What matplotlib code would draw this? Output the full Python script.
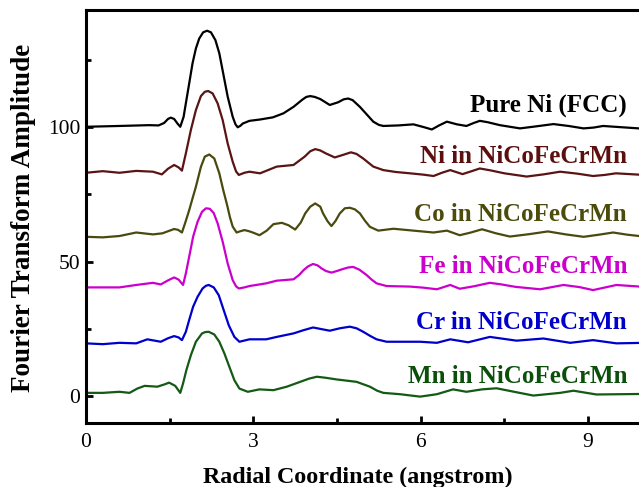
import matplotlib
matplotlib.use("Agg")
import matplotlib.pyplot as plt
from matplotlib.ticker import MultipleLocator

plt.rcParams['font.family'] = ['Liberation Serif', 'DejaVu Serif']

# ---- data ----
r_pure = [0, 0.6, 1.13, 1.30, 1.40, 1.47, 1.52, 1.58, 1.64, 1.69,
          1.75, 1.79, 1.85, 1.91, 1.97, 2.03, 2.10, 2.17, 2.24, 2.32,
          2.39, 2.46, 2.54, 2.63, 2.68, 2.72, 2.77, 2.81, 2.93, 3.12,
          3.35, 3.54, 3.72, 3.88, 3.95, 4.02, 4.10, 4.20, 4.37, 4.52,
          4.62, 4.70, 4.78, 4.91, 5.05, 5.15, 5.25, 5.33, 5.60, 5.87,
          6.05, 6.20, 6.33, 6.47, 6.65, 6.82, 6.95, 7.06, 7.20, 7.42,
          7.78, 8.05, 8.38, 8.65, 8.92, 9.10, 9.27, 9.55, 9.91, 10.0]
a_pure = [100.1, 100.4, 100.7, 100.6, 101.5, 103.0, 103.5, 103.0, 101.3, 100.1,
          103.8, 108.8, 116.2, 123.7, 129.2, 132.9, 135.2, 135.8, 135.2, 132.3,
          127.4, 119.9, 111.3, 103.8, 101.0, 99.9, 100.5, 101.3, 102.3, 102.8,
          103.6, 105.1, 107.5, 110.2, 111.2, 111.5, 111.2, 110.4, 108.2, 109.2,
          110.3, 110.6, 110.0, 107.5, 104.3, 102.0, 100.8, 100.4, 100.6, 101.0,
          100.0, 99.1, 100.6, 102.0, 101.0, 100.4, 101.5, 102.3, 101.8, 100.7,
          99.5, 100.2, 101.1, 100.4, 99.5, 99.8, 100.4, 100.0, 99.5, 99.5]

r_ni = [0, 0.3, 0.6, 0.9, 1.2, 1.36, 1.47, 1.58, 1.66, 1.72,
        1.79, 1.88, 1.97, 2.06, 2.13, 2.19, 2.27, 2.36, 2.45, 2.54,
        2.63, 2.69, 2.74, 2.84, 2.93, 3.12, 3.42, 3.72, 3.92, 4.02,
        4.11, 4.20, 4.30, 4.46, 4.60, 4.75, 4.85, 4.97, 5.15, 5.33,
        5.55, 5.81, 6.05, 6.23, 6.38, 6.53, 6.75, 6.90, 7.06, 7.25,
        7.5, 7.9, 8.2, 8.5, 8.8, 9.09, 9.3, 9.5, 10.0]
a_ni = [83.0, 83.6, 83.0, 83.7, 83.4, 82.4, 84.5, 85.9, 85.0, 83.8,
        90.2, 98.9, 106.3, 111.5, 113.1, 113.4, 112.5, 108.8, 102.6, 93.9,
        87.1, 83.5, 82.2, 83.0, 83.4, 82.8, 85.3, 85.9, 89.0, 91.0,
        91.8, 91.3, 90.2, 88.7, 89.6, 90.6, 90.0, 88.3, 85.3, 84.0,
        83.3, 82.8, 82.3, 81.8, 83.0, 84.0, 82.5, 83.5, 84.6, 83.9,
        82.8, 81.6, 82.4, 83.4, 82.7, 81.8, 82.2, 82.8, 82.2]

r_co = [0, 0.3, 0.6, 0.9, 1.2, 1.37, 1.50, 1.58, 1.65, 1.72,
        1.78, 1.85, 1.91, 1.97, 2.06, 2.13, 2.21, 2.30, 2.39, 2.46,
        2.53, 2.58, 2.63, 2.70, 2.77, 2.84, 2.92, 2.99, 3.11, 3.24,
        3.36, 3.51, 3.63, 3.75, 3.85, 3.93, 4.02, 4.11, 4.20, 4.25,
        4.33, 4.40, 4.47, 4.55, 4.64, 4.73, 4.82, 4.91, 5.00, 5.09,
        5.24, 5.51, 5.87, 6.23, 6.47, 6.70, 6.90, 7.10, 7.35, 7.60,
        7.95, 8.28, 8.60, 8.92, 9.20, 9.45, 9.70, 10.0]
a_co = [59.2, 59.0, 59.5, 60.8, 60.1, 60.5, 61.5, 62.1, 61.8, 60.8,
        64.5, 69.1, 73.5, 77.8, 85.2, 89.0, 89.8, 88.3, 82.8, 76.6,
        71.0, 66.5, 63.0, 60.8, 61.3, 61.7, 61.3, 60.8, 59.8, 61.5,
        63.9, 64.4, 63.5, 61.9, 64.5, 67.9, 70.4, 71.6, 70.4, 67.9,
        65.0, 63.2, 65.0, 67.9, 69.8, 70.0, 69.4, 67.9, 65.2, 62.9,
        61.5, 62.2, 61.5, 60.8, 61.5, 59.8, 60.8, 62.0, 60.5, 59.3,
        60.2, 61.2, 60.1, 59.2, 60.0, 60.8, 60.0, 59.3]

r_fe = [0, 0.3, 0.6, 0.9, 1.2, 1.34, 1.47, 1.58, 1.66, 1.74,
        1.79, 1.85, 1.92, 2.0, 2.08, 2.15, 2.22, 2.29, 2.36, 2.45,
        2.54, 2.63, 2.69, 2.74, 2.84, 2.93, 3.23, 3.42, 3.72, 3.82,
        3.90, 3.98, 4.07, 4.15, 4.22, 4.30, 4.40, 4.50, 4.60, 4.70,
        4.79, 4.90, 5.03, 5.12, 5.21, 5.39, 5.81, 6.05, 6.29, 6.53,
        6.70, 6.95, 7.24, 7.45, 7.70, 8.14, 8.56, 8.85, 9.09, 9.51,
        10.0]
a_fe = [40.4, 40.4, 40.4, 41.3, 42.1, 41.5, 43.0, 44.1, 43.3, 41.3,
        45.6, 51.8, 59.2, 64.8, 68.5, 69.8, 69.6, 68.0, 64.2, 57.4,
        49.3, 43.1, 40.8, 40.0, 40.4, 40.9, 41.9, 42.9, 43.4, 45.0,
        46.8, 48.2, 49.1, 48.6, 47.5, 46.5, 45.9, 46.5, 47.2, 47.8,
        48.0, 47.0, 45.0, 43.3, 41.9, 40.9, 40.7, 40.3, 39.7, 41.3,
        39.9, 40.8, 42.1, 41.5, 40.6, 39.7, 41.3, 40.5, 39.4, 41.3,
        40.6]

r_cr = [0, 0.3, 0.6, 0.9, 1.1, 1.34, 1.47, 1.58, 1.66, 1.72,
        1.79, 1.85, 1.92, 2.0, 2.09, 2.15, 2.20, 2.29, 2.38, 2.46,
        2.56, 2.66, 2.75, 2.93, 3.23, 3.42, 3.72, 3.90, 4.07, 4.22,
        4.37, 4.55, 4.73, 4.85, 4.97, 5.10, 5.21, 5.39, 5.99, 6.29,
        6.53, 6.85, 7.24, 7.72, 8.20, 8.68, 9.09, 9.51, 10.0]
a_cr = [19.6, 19.3, 19.8, 19.6, 21.1, 20.2, 21.5, 22.3, 21.8, 20.8,
        23.9, 28.3, 33.2, 36.9, 40.0, 41.0, 41.3, 40.4, 37.5, 32.5,
        26.3, 22.0, 20.2, 21.1, 21.1, 22.0, 23.3, 24.5, 25.5, 24.9,
        24.3, 25.2, 25.8, 25.2, 23.9, 22.3, 21.1, 20.2, 20.2, 19.8,
        21.1, 20.0, 22.0, 20.6, 21.4, 19.8, 20.8, 19.6, 19.8]

r_mn = [0, 0.3, 0.6, 0.78, 0.92, 1.05, 1.28, 1.40, 1.49, 1.60,
        1.69, 1.74, 1.80, 1.88, 1.97, 2.08, 2.14, 2.20, 2.30, 2.39,
        2.48, 2.57, 2.66, 2.75, 2.90, 3.11, 3.36, 3.60, 3.84, 4.00,
        4.14, 4.30, 4.49, 4.85, 5.09, 5.22, 5.33, 5.63, 5.99, 6.29,
        6.58, 6.82, 7.10, 7.36, 7.70, 8.02, 8.50, 8.74, 9.15, 9.57,
        10.0]
a_mn = [1.2, 1.2, 1.6, 1.2, 2.8, 3.8, 3.5, 4.3, 5.0, 3.8,
        1.2, 4.7, 9.7, 15.2, 20.2, 23.3, 23.8, 23.9, 22.9, 20.2,
        15.9, 10.9, 5.9, 2.8, 1.6, 2.5, 2.2, 3.5, 5.3, 6.5,
        7.2, 6.8, 6.2, 5.3, 3.5, 2.0, 1.2, 0.7, -0.2, 0.7,
        2.5, 1.6, 2.5, 2.9, 1.5, 0.2, 1.2, 2.0, 0.6, 0.7,
        0.8]

series_names = ["Pure Ni (FCC)", "Ni in NiCoFeCrMn", "Co in NiCoFeCrMn",
                "Fe in NiCoFeCrMn", "Cr in NiCoFeCrMn", "Mn in NiCoFeCrMn"]
series_r = [r_pure, r_ni, r_co, r_fe, r_cr, r_mn]
series_a = [a_pure, a_ni, a_co, a_fe, a_cr, a_mn]

x_ticks = [0, 3, 6, 9]
y_ticks = [0, 50, 100]

# ---- styling / layout ----
line_colors = ["#000000", "#5a1414", "#4a4a10", "#cc00cc", "#0000cc", "#145a14"]
text_colors = ["#000000", "#5c0f0f", "#4b4b0b", "#cc00cc", "#0000cc", "#0b4f0b"]
label_baselines = [105.9, 86.5, 65.2, 45.6, 24.8, 4.9]

W, H = 639, 487
fig = plt.figure(figsize=(W / 100, H / 100), dpi=100)
ax = fig.add_axes([86 / W, (H - 423) / H, 557.8 / W, 413 / H])

for r, a, c in zip(series_r, series_a, line_colors):
    ax.plot(r, a, color=c, lw=1.6, solid_joinstyle='round', solid_capstyle='round')

for name, c, yb in zip(series_names, text_colors, label_baselines):
    ax.text(9.70, yb, name, color=c, fontsize=18, fontweight='bold',
            ha='right', va='baseline')

ax.set_xlim(0, 10)
ax.set_ylim(-10, 143.5)
ax.set_xticks(x_ticks)
ax.set_yticks(y_ticks)
ax.xaxis.set_minor_locator(MultipleLocator(1.5))
ax.yaxis.set_minor_locator(MultipleLocator(25))
ax.tick_params(which='major', direction='in', length=5, width=2, labelsize=15.5)
ax.tick_params(axis='x', which='major', pad=7)
ax.tick_params(axis='y', which='major', pad=4)
ax.tick_params(which='minor', direction='in', length=3.5, width=2)
for s in ax.spines.values():
    s.set_linewidth(2.2)

fig.text(358 / W, (H - 483) / H, "Radial Coordinate (angstrom)", fontsize=17.3,
         fontweight='bold', ha='center', va='baseline')
fig.text(24 / W, (H - 218) / H, "Fourier Transform Amplitude", fontsize=19.5,
         fontweight='bold', ha='center', va='center', rotation=90)

fig.savefig("out.png", dpi=100)
